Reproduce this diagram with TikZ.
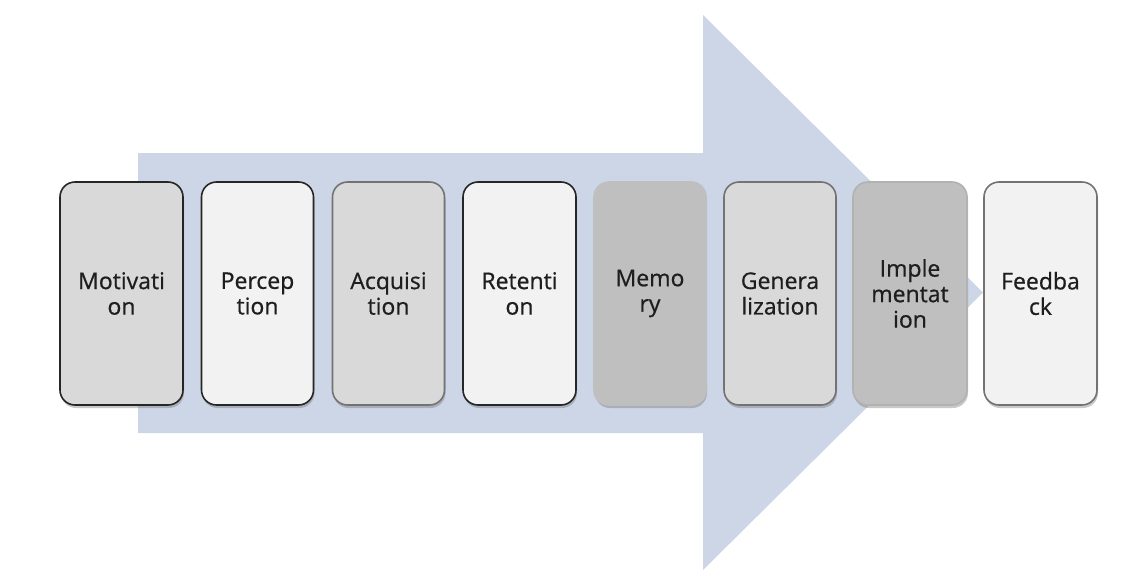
\documentclass[tikz,border=0pt]{standalone}
\usepackage{fontspec}
\setmainfont{Open Sans}
\newfontfamily\boxfont[FakeBold=0.7]{Open Sans}
\usetikzlibrary{shadows}
\definecolor{arrowblue}{HTML}{CDD6E7}
\definecolor{lightfill}{HTML}{F2F2F2}
\definecolor{midfill}{HTML}{D9D9D9}
\definecolor{darkfill}{HTML}{BFBFBF}
\definecolor{txt}{HTML}{1E1E1E}
\tikzset{
  stagebox/.style={rectangle, rounded corners=15pt, line width=1.6pt, inner sep=0pt,
    minimum width=112pt, minimum height=223pt,
    align=center, text=txt, font=\boxfont\fontsize{23}{25.5}\selectfont,
    drop shadow={shadow xshift=1pt, shadow yshift=-3pt, opacity=0.35, fill=black!60}},
  darkline/.style={draw=black!85},
  greyline/.style={draw=black!55},
  softline/.style={draw=black!30},
}
\begin{document}
\begin{tikzpicture}[x=1pt,y=-1pt]
\useasboundingbox (0,0) rectangle (1138,570);
\fill[white] (0,0) rectangle (1138,570);
% big arrow
\fill[arrowblue] (138,153) -- (703,153) -- (703,15) -- (983,292.5) -- (703,570) -- (703,433) -- (138,433) -- cycle;
% stages
\node[stagebox, darkline, fill=midfill, minimum width=123pt] (motivation) at (121.5,293.5) {Motivati\\on};
\node[stagebox, darkline, fill=lightfill] (perception) at (257.5,293.5) {Percep\\tion};
\node[stagebox, greyline, fill=midfill] (acquisition) at (388.5,293.5) {Acquisi\\tion};
\node[stagebox, darkline, fill=lightfill, minimum width=113pt] (retention) at (519.5,293.5) {Retenti\\on};
\node[stagebox, draw=darkfill, fill=darkfill] (memory) at (650,293.5) {Memo\\ry};
\node[stagebox, greyline, fill=midfill] (generalization) at (780,293.5) {Genera\\lization};
\node[stagebox, softline, fill=darkfill, minimum width=114pt] (implementation) at (910,293.5) {Imple\\mentat\\ion};
\node[stagebox, greyline, fill=lightfill, minimum width=113pt] (feedback) at (1040.5,293.5) {Feedba\\ck};
\end{tikzpicture}
\end{document}
